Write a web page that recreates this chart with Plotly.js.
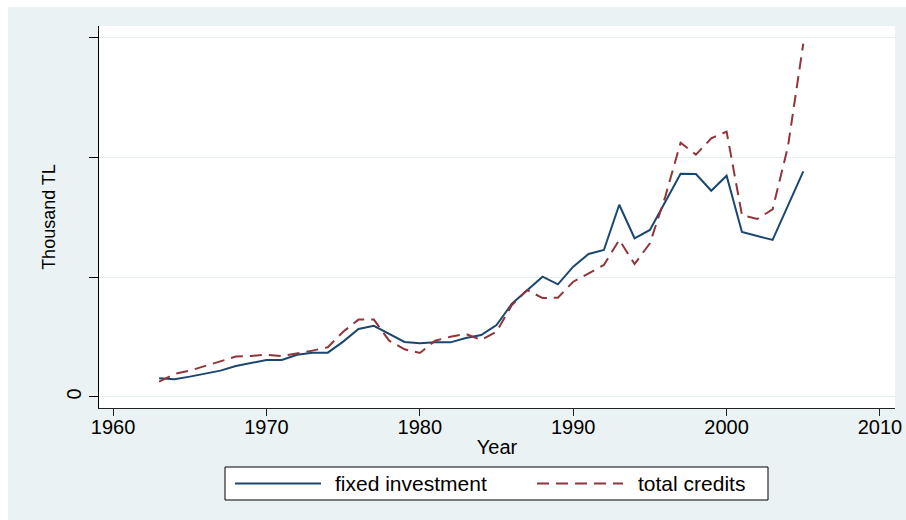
<!DOCTYPE html>
<html>
<head>
<meta charset="utf-8">
<script src="https://cdn.plot.ly/plotly-3.0.1.min.js"></script>
<style>
  html, body { margin: 0; padding: 0; background: #ffffff; overflow: hidden; }
  #chart { position: absolute; left: 8px; top: 7px; width: 898px; height: 513px; }
</style>
</head>
<body>
<div id="chart"></div>
<script>
// ---- data (y in units of one gridline step) ----
const years = [1963,1964,1965,1966,1967,1968,1969,1970,1971,1972,1973,1974,1975,1976,1977,1978,1979,1980,1981,1982,1983,1984,1985,1986,1987,1988,1989,1990,1991,1992,1993,1994,1995,1996,1997,1998,1999,2000,2001,2002,2003,2004,2005];
const fixedInvestment = [0.156,0.148,0.170,0.195,0.220,0.259,0.284,0.309,0.309,0.353,0.370,0.370,0.462,0.568,0.594,0.526,0.459,0.448,0.456,0.456,0.492,0.517,0.601,0.778,0.887,1.004,0.940,1.088,1.194,1.227,1.605,1.325,1.394,1.630,1.864,1.861,1.722,1.847,1.377,1.344,1.311,1.597,1.884];
const totalCredits = [0.128,0.192,0.220,0.259,0.295,0.337,0.342,0.353,0.342,0.364,0.387,0.415,0.545,0.646,0.646,0.470,0.398,0.367,0.470,0.503,0.526,0.476,0.545,0.768,0.893,0.826,0.829,0.962,1.030,1.102,1.311,1.110,1.283,1.672,2.123,2.023,2.159,2.215,1.519,1.486,1.567,2.090,2.950];
const seriesNames = ["fixed investment", "total credits"];
const xTickVals = [1960,1970,1980,1990,2000,2010];
const yTickVals = [0,1,2,3];
const yTickText = ["0","","",""];

// ---- layout geometry helpers (pixel -> paper) ----
const W = 898, H = 513, ML = 91, MR = 11, MT = 19, MB = 112;
const PW = W - ML - MR, PH = H - MT - MB;
const pxX = x => (x - 8 - ML) / PW;          // page x -> paper x
const pxY = y => (H - MB - (y - 7)) / PH;    // page y -> paper y

const navy = "#1a476f", maroon = "#90353b";
const fontFam = "Liberation Sans, Arial, sans-serif";

const traces = [
  { x: years, y: fixedInvestment, name: seriesNames[0], type: "scatter", mode: "lines",
    line: { color: navy, width: 2 }, showlegend: false },
  { x: years, y: totalCredits, name: seriesNames[1], type: "scatter", mode: "lines",
    line: { color: maroon, width: 2, dash: "12px,7px" }, showlegend: false }
];

const legY = pxY(483.5);
const layout = {
  width: W, height: H,
  paper_bgcolor: "#eaf2f3",
  plot_bgcolor: "#ffffff",
  margin: { l: ML, r: MR, t: MT, b: MB },
  font: { family: fontFam, color: "#000000" },
  xaxis: {
    range: [1959.08, 2010.98],
    tickvals: xTickVals,
    ticks: "outside", ticklen: 7, tickwidth: 1, tickcolor: "#222",
    ticklabelstandoff: -6,
    showline: true, linecolor: "#222", linewidth: 1,
    showgrid: false, zeroline: false,
    tickfont: { size: 20, family: fontFam },
    title: { text: "Year", font: { size: 20, family: fontFam }, standoff: 2 }
  },
  yaxis: {
    range: [-0.092, 3.097],
    tickvals: yTickVals, ticktext: yTickText,
    tickangle: -90,
    ticks: "outside", ticklen: 9, tickwidth: 1, tickcolor: "#000",
    showline: true, linecolor: "#000", linewidth: 1,
    showgrid: true, gridcolor: "#e6eff0", gridwidth: 1,
    zeroline: false,
    tickfont: { size: 20, family: fontFam },
    title: { text: "Thousand TL", font: { size: 18, family: fontFam }, standoff: 2 }
  },
  shapes: [
    { type: "rect", xref: "paper", yref: "paper",
      x0: pxX(225), x1: pxX(768), y0: pxY(500), y1: pxY(467),
      line: { color: "#000", width: 1 }, fillcolor: "#ffffff", layer: "above" },
    { type: "line", xref: "paper", yref: "paper",
      x0: pxX(235), x1: pxX(321), y0: legY, y1: legY,
      line: { color: navy, width: 2 } },
    { type: "line", xref: "paper", yref: "paper",
      x0: pxX(537), x1: pxX(623), y0: legY, y1: legY,
      line: { color: maroon, width: 2, dash: "12px,7px" } }
  ],
  annotations: [
    { xref: "paper", yref: "paper", x: pxX(333), y: legY, xanchor: "left", yanchor: "middle",
      text: seriesNames[0], showarrow: false, font: { size: 21, family: fontFam, color: "#000" } },
    { xref: "paper", yref: "paper", x: pxX(636), y: legY, xanchor: "left", yanchor: "middle",
      text: seriesNames[1], showarrow: false, font: { size: 21, family: fontFam, color: "#000" } }
  ]
};

Plotly.newPlot("chart", traces, layout, { displayModeBar: false, staticPlot: true });
</script>
</body>
</html>
